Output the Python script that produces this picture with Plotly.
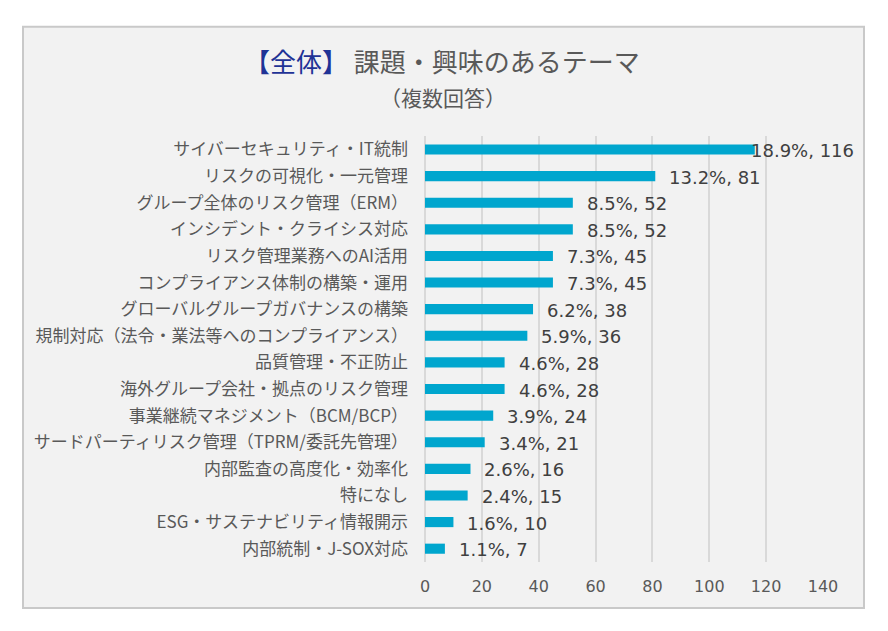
import plotly.graph_objects as go

categories = [
    "サイバーセキュリティ・IT統制",
    "リスクの可視化・一元管理",
    "グループ全体のリスク管理（ERM）",
    "インシデント・クライシス対応",
    "リスク管理業務へのAI活用",
    "コンプライアンス体制の構築・運用",
    "グローバルグループガバナンスの構築",
    "規制対応（法令・業法等へのコンプライアンス）",
    "品質管理・不正防止",
    "海外グループ会社・拠点のリスク管理",
    "事業継続マネジメント（BCM/BCP）",
    "サードパーティリスク管理（TPRM/委託先管理）",
    "内部監査の高度化・効率化",
    "特になし",
    "ESG・サステナビリティ情報開示",
    "内部統制・J-SOX対応",
]
counts = [116, 81, 52, 52, 45, 45, 38, 36, 28, 28, 24, 21, 16, 15, 10, 7]
percents = [18.9, 13.2, 8.5, 8.5, 7.3, 7.3, 6.2, 5.9, 4.6, 4.6, 3.9, 3.4, 2.6, 2.4, 1.6, 1.1]
x_ticks = [0, 20, 40, 60, 80, 100, 120, 140]

JP = "Noto Sans CJK JP"
NUM = "DejaVu Sans"

fig = go.Figure()
fig.add_trace(go.Bar(
    x=counts, y=categories, orientation="h",
    marker=dict(color="#00A6CE", line=dict(width=0)),
    width=0.38, hoverinfo="skip",
))

for i, (c, n, p) in enumerate(zip(categories, counts, percents)):
    fig.add_annotation(
        x=n, y=c, xref="x", yref="y",
        text=f"{p}%, {n}", showarrow=False,
        xanchor="left", yanchor="middle",
        xshift=-6 if i == 0 else 12, yshift=-1,
        font=dict(family=NUM, size=18, color="#404040"),
    )

# title
fig.add_annotation(
    xref="paper", yref="paper", x=(442 - 425) / 398, y=(562 - 62) / 425,
    xanchor="center", yanchor="middle", showarrow=False,
    text="<span style='color:#1F3396'>【全体】</span> 課題・興味のあるテーマ",
    font=dict(family=JP, size=26, color="#595959"),
)
fig.add_annotation(
    xref="paper", yref="paper", x=(443 - 425) / 398, y=(562 - 98) / 425,
    xanchor="center", yanchor="middle", showarrow=False,
    text="（複数回答）",
    font=dict(family=JP, size=21, color="#595959"),
)

# outer frame
fig.add_shape(
    type="rect", xref="paper", yref="paper",
    x0=(23 - 425) / 398, x1=(864 - 425) / 398,
    y0=(562 - 608) / 425, y1=(562 - 28) / 425,
    fillcolor="#F2F2F2", line=dict(color="#C9C9C9", width=2), layer="below",
)

fig.update_layout(
    width=888, height=631,
    margin=dict(l=425, r=65, t=136, b=69),
    paper_bgcolor="white", plot_bgcolor="rgba(0,0,0,0)",
    showlegend=False, bargap=0.6,
    xaxis=dict(
        range=[0, 140], tickvals=x_ticks, showgrid=True,
        gridcolor="#D9D9D9", gridwidth=1.5,
        zeroline=True, zerolinecolor="#D9D9D9", zerolinewidth=1.5,
        showline=False, ticks="", ticklabelstandoff=13,
        tickfont=dict(family=NUM, size=16, color="#595959"),
        fixedrange=True,
    ),
    yaxis=dict(
        autorange="reversed", showgrid=False, showline=False, ticks="",
        ticklabelstandoff=16,
        tickfont=dict(family=JP, size=17, color="#595959"),
        fixedrange=True,
    ),
)

fig.write_html("out.html")
